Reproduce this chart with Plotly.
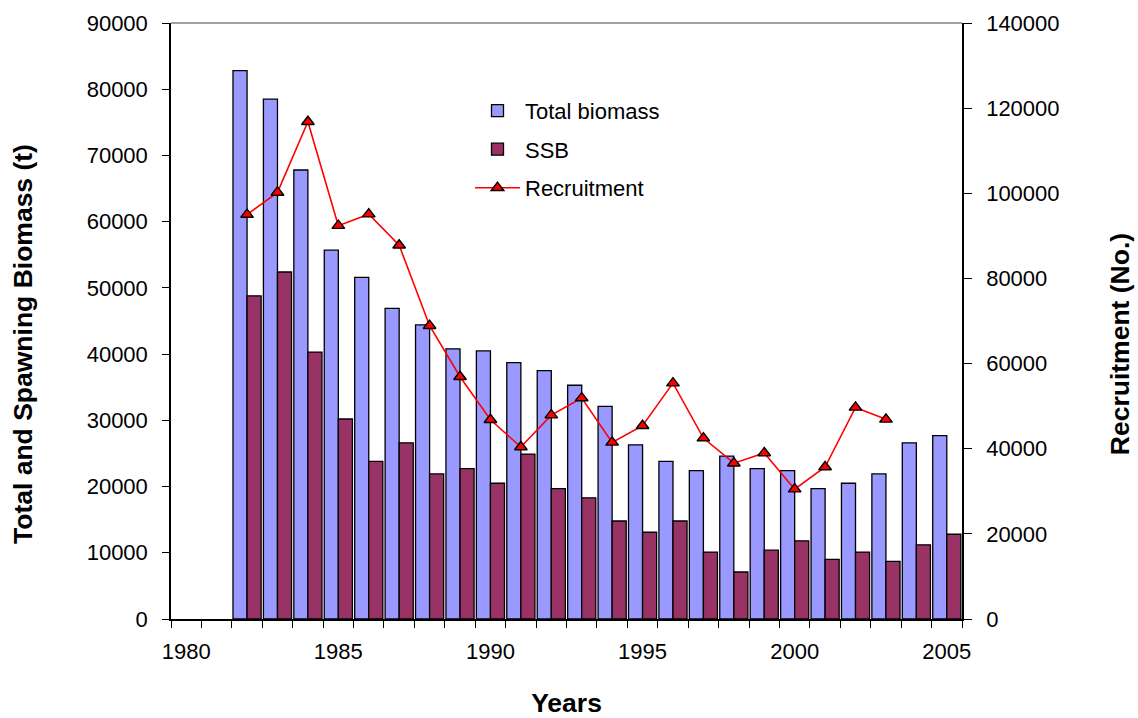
import plotly.graph_objects as go

# ---- data ----
years = list(range(1982, 2006))
total_biomass = [82800, 78500, 67800, 55700, 51600, 46900, 44400, 40800, 40500, 38700,
                 37500, 35300, 32100, 26300, 23800, 22400, 24600, 22700, 22400, 19700,
                 20500, 21900, 26600, 27700]
ssb = [48800, 52400, 40300, 30200, 23800, 26600, 21900, 22700, 20500, 24900,
       19700, 18300, 14800, 13100, 14800, 10100, 7100, 10400, 11800, 9000,
       10100, 8700, 11200, 12800]
rec_years = list(range(1982, 2004))
recruitment = [95000, 100200, 116800, 92400, 95100, 87800, 68900, 56900, 46800, 40400,
               47900, 51900, 41500, 45400, 55400, 42500, 36600, 39000, 30500, 35700,
               49700, 46900]

x_tick_years = [1980, 1985, 1990, 1995, 2000, 2005]
left_ticks = list(range(0, 90001, 10000))
right_ticks = list(range(0, 140001, 20000))

FONT = "Liberation Sans, Arial, sans-serif"
TICK_SIZE = 22
TITLE_SIZE = 26.5

fig = go.Figure()
fig.add_trace(go.Bar(
    x=years, y=total_biomass, name="Total biomass", legendgroup="a",
    marker=dict(color="#9999FF", line=dict(color="black", width=1.3)),
))
fig.add_trace(go.Bar(
    x=years, y=ssb, name="SSB", legendgroup="b",
    marker=dict(color="#993366", line=dict(color="black", width=1.3)),
))
fig.add_trace(go.Scatter(
    x=rec_years, y=recruitment, name="Recruitment", legendgroup="c", yaxis="y2",
    mode="lines+markers",
    line=dict(color="#FF0000", width=1.6),
    marker=dict(symbol="triangle-up", size=11, color="#FF0000",
                line=dict(color="black", width=1.4)),
))

fig.update_layout(
    width=1138, height=718,
    template="none",
    paper_bgcolor="white", plot_bgcolor="white",
    font=dict(family=FONT, size=TICK_SIZE, color="black"),
    margin=dict(l=171, r=176, t=23, b=99, pad=0),
    barmode="group", bargap=0.075, bargroupgap=0,
    showlegend=True,
    legend=dict(x=0.378, y=0.888, xanchor="left", yanchor="top",
                bgcolor="rgba(0,0,0,0)", font=dict(size=TICK_SIZE, family=FONT),
                tracegroupgap=7, itemwidth=45, traceorder="grouped"),
    xaxis=dict(
        range=[1979.5, 2005.5], tickmode="array", tickvals=x_tick_years,
        ticktext=[str(v) for v in x_tick_years],
        ticks="", showgrid=False, zeroline=False,
        showline=True, linecolor="black", linewidth=1.5,
        minor=dict(ticks="outside", tick0=1979.5, dtick=1, ticklen=7,
                   tickcolor="black", tickwidth=1.2, showgrid=False),
        ticklabelstandoff=12,
        title=dict(text="<b>Years</b>", font=dict(size=TITLE_SIZE, family=FONT), standoff=32),
        automargin=False,
    ),
    yaxis=dict(
        range=[0, 90000], tickmode="array", tickvals=left_ticks,
        ticktext=[str(v) for v in left_ticks],
        ticks="outside", ticklen=7, tickcolor="black", tickwidth=1.2,
        showgrid=False, zeroline=False, showline=True, linecolor="black", linewidth=1.5,
        ticklabelstandoff=10,
        automargin=False,
    ),
    yaxis2=dict(
        range=[0, 140000], tickmode="array", tickvals=right_ticks,
        ticktext=[str(v) for v in right_ticks],
        overlaying="y", side="right",
        ticks="outside", ticklen=8, tickcolor="black", tickwidth=1.2,
        showgrid=False, zeroline=False, showline=True, linecolor="black", linewidth=1.5,
        ticklabelstandoff=10,
        automargin=False,
    ),
    annotations=[
        dict(text="<b>Total and Spawning Biomass (t)</b>", textangle=-90,
             xref="paper", yref="paper", x=-0.187, y=0.4615,
             xanchor="center", yanchor="middle", showarrow=False,
             font=dict(size=TITLE_SIZE, family=FONT)),
        dict(text="<b>Recruitment (No.)</b>", textangle=-90,
             xref="paper", yref="paper", x=1.2001, y=0.4615,
             xanchor="center", yanchor="middle", showarrow=False,
             font=dict(size=TITLE_SIZE, family=FONT)),
    ],
    shapes=[dict(type="line", xref="paper", yref="paper", x0=0, x1=1, y0=1, y1=1,
                 line=dict(color="#808080", width=1.5))],
)

fig.write_html("out.html", config={"displayModeBar": False},
               post_script="document.body.style.margin='0';")
